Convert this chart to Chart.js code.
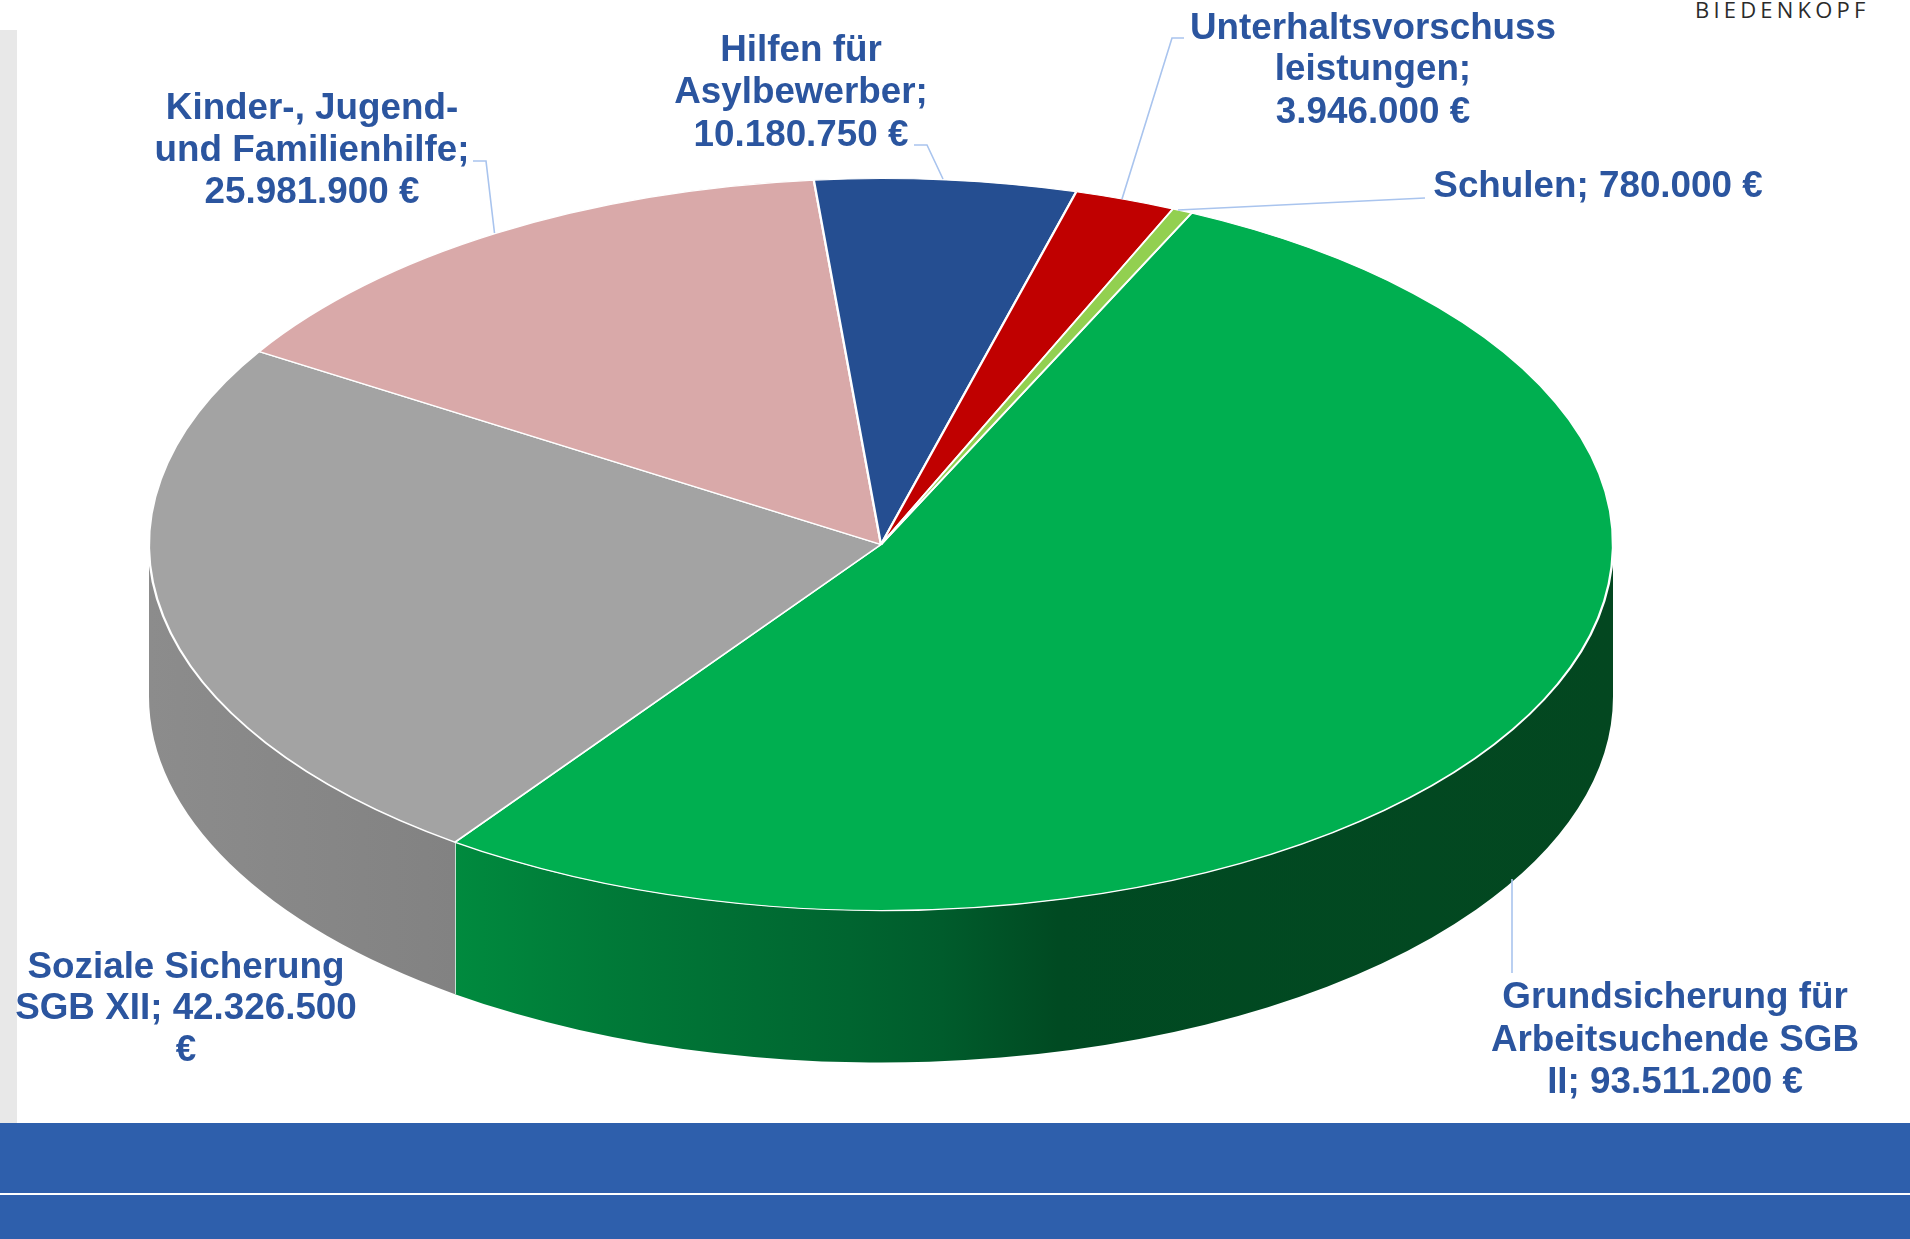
<!DOCTYPE html>
<html lang="de">
<head>
<meta charset="utf-8">
<title>Ausgaben Soziales</title>
<script src="https://cdn.jsdelivr.net/npm/chart.js"></script>
<style>
  html, body { margin: 0; padding: 0; background: #fff; overflow: hidden; }
  #page { position: relative; width: 1910px; height: 1239px; overflow: hidden; }
  #strip { position: absolute; left: 0; top: 30px; width: 17px; height: 1093px; background: #e8e8e8; }
  #band { position: absolute; left: 0; top: 1123px; width: 1910px; height: 116px; background: #2e5fac; }
  #bandLine { position: absolute; left: 0; top: 1193px; width: 1910px; height: 2px; background: #fff; }
  #brand { position: absolute; left: 1695px; top: -6px; font: 22px "Open Sans", sans-serif; letter-spacing: 4.2px; color: #2b2b2b; white-space: nowrap; }
  #chart { position: absolute; left: 0; top: 0; }
</style>
</head>
<body>
<div id="page">
  <div id="strip"></div>
  <div id="band"></div>
  <div id="bandLine"></div>
  <div id="brand">BIEDENKOPF</div>
  <canvas id="chart" width="1910" height="1239"></canvas>
</div>
<script>
// Chart data
const categories = [
  "Grundsicherung für Arbeitsuchende SGB II",
  "Soziale Sicherung SGB XII",
  "Kinder-, Jugend- und Familienhilfe",
  "Hilfen für Asylbewerber",
  "Unterhaltsvorschussleistungen",
  "Schulen",
];
const values = [93511200, 42326500, 25981900, 10180750, 3946000, 780000];
const topColors = ["#00af50", "#a3a3a3", "#d9a9a9", "#254e91", "#c00000", "#92d050"];
const labelLines = [
  ["Grundsicherung für", "Arbeitsuchende SGB", "II; 93.511.200 €"],
  ["Soziale Sicherung", "SGB XII; 42.326.500", "€"],
  ["Kinder-, Jugend-", "und Familienhilfe;", "25.981.900 €"],
  ["Hilfen für", "Asylbewerber;", "10.180.750 €"],
  ["Unterhaltsvorschuss", "leistungen;", "3.946.000 €"],
  ["Schulen; 780.000 €"],
];

// Where the pie sits on the page (ellipse of the top face)
const pie = { cx: 881, cy: 544.5, rx: 732, ry: 366, depth: 152 };

// Side wall shading, left to right, only the slices at the front need it
const wallStops = {
  0: [[0, "#008a3e"], [0.13, "#007a38"], [0.34, "#006530"], [0.42, "#005c2c"], [0.52, "#004a22"], [1, "#034720"]],
  1: [[0, "#8c8c8c"], [1, "#828282"]],
};
const wallFallback = "#777777";

// Label centres and leader lines
const labelSpots = [
  { x: 1675, y: [998, 1041, 1083], line: [[1512, 973], [1512, 879]] },
  { x: 186, y: [968, 1009, 1051] },
  { x: 312, y: [109, 151, 193], line: [[473, 161], [486, 161], [494.5, 233]] },
  { x: 801, y: [51, 93, 136], line: [[914, 145], [927, 145], [943, 179]] },
  { x: 1373, y: [29, 70, 113], line: [[1184, 38], [1172, 38], [1122, 199]] },
  { x: 1598, y: [187], line: [[1425, 198], [1178, 210]] },
];

// Draws the 3D wall under the top face, using the angles of the arc elements
const wallPlugin = {
  id: "wall",
  beforeDatasetsDraw(chart) {
    const { ctx } = chart;
    chart.getDatasetMeta(0).data.forEach((arc, i) => {
      const from = Math.max(arc.startAngle, 0);
      const to = Math.min(arc.endAngle, Math.PI);
      if (to <= from) return;

      const x0 = pie.cx + pie.rx * Math.cos(to);
      const x1 = pie.cx + pie.rx * Math.cos(from);
      const grad = ctx.createLinearGradient(x0, 0, x1, 0);
      (wallStops[i] || [[0, wallFallback], [1, wallFallback]]).forEach((s) => grad.addColorStop(s[0], s[1]));

      ctx.save();
      ctx.beginPath();
      ctx.ellipse(pie.cx, pie.cy, pie.rx, pie.ry, 0, from, to);
      ctx.ellipse(pie.cx, pie.cy + pie.depth, pie.rx, pie.ry, 0, to, from, true);
      ctx.closePath();
      ctx.fillStyle = grad;
      ctx.fill();
      ctx.restore();

      // White edge between two slices on the wall
      if (to < Math.PI) {
        const ex = pie.cx + pie.rx * Math.cos(to);
        const ey = pie.cy + pie.ry * Math.sin(to);
        ctx.save();
        ctx.strokeStyle = "#ffffff";
        ctx.lineWidth = 1.5;
        ctx.beginPath();
        ctx.moveTo(ex, ey);
        ctx.lineTo(ex, ey + pie.depth);
        ctx.stroke();
        ctx.restore();
      }
    });
  },
  // Flatten the pie to an ellipse
  beforeDatasetDraw(chart) {
    const arc = chart.getDatasetMeta(0).data[0];
    const { ctx } = chart;
    ctx.save();
    ctx.translate(pie.cx, pie.cy);
    ctx.scale(pie.rx / arc.outerRadius, pie.ry / arc.outerRadius);
    ctx.translate(-arc.x, -arc.y);
  },
  afterDatasetDraw(chart) {
    chart.ctx.restore();
  },
};

// Data labels with leader lines
const labelPlugin = {
  id: "calloutLabels",
  afterDatasetsDraw(chart) {
    const { ctx } = chart;
    ctx.save();
    labelSpots.forEach((spot, i) => {
      if (spot.line) {
        ctx.strokeStyle = "#a9c4ee";
        ctx.lineWidth = 1.6;
        ctx.beginPath();
        spot.line.forEach((p, n) => (n ? ctx.lineTo(p[0], p[1]) : ctx.moveTo(p[0], p[1])));
        ctx.stroke();
      }
      ctx.fillStyle = "#2b559f";
      ctx.font = 'bold 36.8px "Liberation Sans", Arial, sans-serif';
      ctx.textAlign = "center";
      ctx.textBaseline = "middle";
      labelLines[i].forEach((text, n) => ctx.fillText(text, spot.x, spot.y[n]));
    });
    ctx.restore();
  },
};

new Chart(document.getElementById("chart"), {
  type: "pie",
  data: {
    labels: categories,
    datasets: [
      {
        data: values,
        backgroundColor: topColors,
        borderColor: "#ffffff",
        borderWidth: 2,
        clip: false,
      },
    ],
  },
  options: {
    responsive: false,
    animation: false,
    rotation: 25.1,
    events: [],
    plugins: {
      legend: { display: false },
      tooltip: { enabled: false },
    },
  },
  plugins: [wallPlugin, labelPlugin],
});
</script>
</body>
</html>
